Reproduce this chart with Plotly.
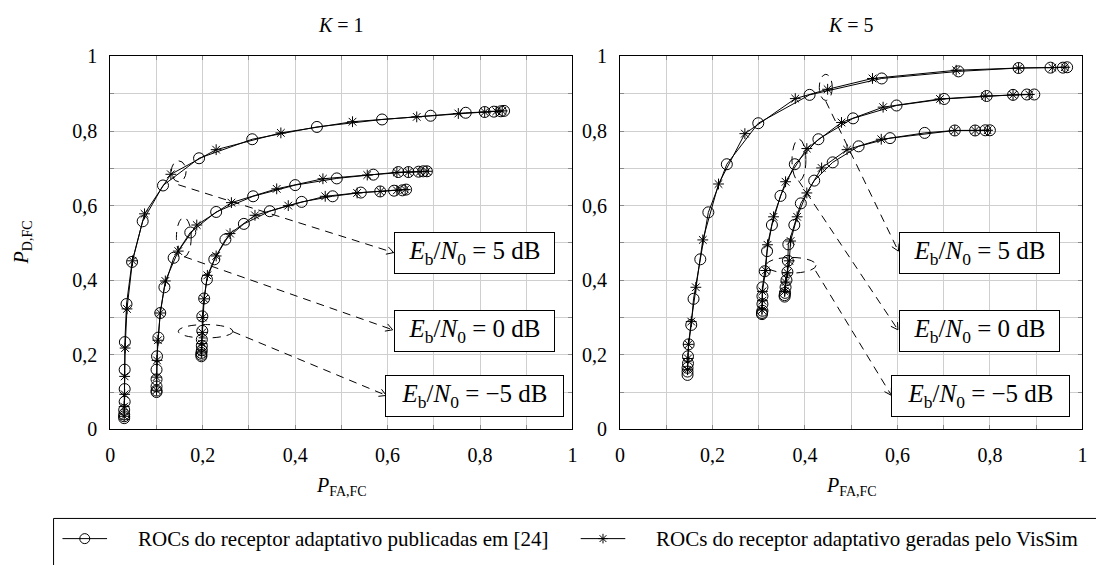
import math
import plotly.graph_objects as go

W, H = 1096, 565
FONT = "Liberation Serif"

# ---------------- ROC data: K = 1 ----------------
k1_pub_5_x = [0.030, 0.030, 0.030, 0.030, 0.031, 0.031, 0.031, 0.0315, 0.035, 0.047, 0.070, 0.114,
              0.192, 0.307, 0.447, 0.588, 0.693, 0.769, 0.810, 0.830, 0.845, 0.852]
k1_pub_5_y = [0.030, 0.035, 0.040, 0.052, 0.074, 0.108, 0.160, 0.234, 0.336, 0.449, 0.558, 0.654,
              0.727, 0.778, 0.811, 0.831, 0.841, 0.849, 0.851, 0.852, 0.853, 0.854]
k1_vis_5_x = [0.030, 0.030, 0.031, 0.031, 0.032, 0.036, 0.048, 0.074, 0.131, 0.229, 0.369, 0.524,
              0.663, 0.753, 0.810, 0.835, 0.848]
k1_vis_5_y = [0.035, 0.061, 0.094, 0.142, 0.218, 0.323, 0.452, 0.578, 0.684, 0.750, 0.795, 0.825,
              0.838, 0.847, 0.851, 0.853, 0.854]

k1_pub_0_x = [0.100, 0.100, 0.100, 0.100, 0.100, 0.101, 0.104, 0.108, 0.117, 0.137, 0.173, 0.229,
              0.309, 0.400, 0.490, 0.569, 0.623, 0.645, 0.667, 0.677, 0.685]
k1_pub_0_y = [0.100, 0.104, 0.115, 0.134, 0.160, 0.196, 0.246, 0.312, 0.381, 0.460, 0.528, 0.583,
              0.625, 0.655, 0.673, 0.683, 0.690, 0.690, 0.691, 0.692, 0.692]
k1_vis_0_x = [0.100, 0.100, 0.101, 0.103, 0.108, 0.119, 0.147, 0.187, 0.262, 0.360, 0.460, 0.556,
              0.620, 0.645, 0.670, 0.685]
k1_vis_0_y = [0.105, 0.140, 0.185, 0.239, 0.312, 0.398, 0.478, 0.548, 0.608, 0.645, 0.672, 0.682,
              0.689, 0.690, 0.691, 0.692]

k1_pub_m5_x = [0.197, 0.197, 0.197, 0.198, 0.198, 0.198, 0.199, 0.199, 0.203, 0.209, 0.225, 0.249,
               0.289, 0.345, 0.414, 0.481, 0.542, 0.584, 0.614, 0.632, 0.640]
k1_pub_m5_y = [0.196, 0.200, 0.205, 0.212, 0.224, 0.241, 0.264, 0.303, 0.351, 0.402, 0.456, 0.509,
               0.551, 0.585, 0.610, 0.625, 0.635, 0.638, 0.640, 0.641, 0.643]
k1_vis_m5_x = [0.197, 0.198, 0.199, 0.200, 0.203, 0.210, 0.229, 0.259, 0.313, 0.385, 0.465, 0.534,
               0.584, 0.620, 0.638]
k1_vis_m5_y = [0.205, 0.230, 0.260, 0.300, 0.350, 0.413, 0.465, 0.525, 0.574, 0.600, 0.625, 0.634,
               0.638, 0.641, 0.643]

# ---------------- ROC data: K = 5 ----------------
k5_pub_5_x = [0.146, 0.146, 0.146, 0.147, 0.147, 0.1485, 0.154, 0.159, 0.1736, 0.191, 0.231, 0.299,
              0.410, 0.566, 0.732, 0.862, 0.931, 0.958, 0.967]
k5_pub_5_y = [0.146, 0.155, 0.165, 0.177, 0.196, 0.228, 0.280, 0.350, 0.456, 0.582, 0.711, 0.821,
              0.897, 0.941, 0.960, 0.969, 0.970, 0.970, 0.971]
k5_vis_5_x = [0.146, 0.147, 0.148, 0.154, 0.164, 0.179, 0.213, 0.270, 0.379, 0.449, 0.546, 0.727,
              0.862, 0.935, 0.962]
k5_vis_5_y = [0.160, 0.190, 0.228, 0.289, 0.381, 0.508, 0.658, 0.793, 0.887, 0.912, 0.941, 0.963,
              0.969, 0.970, 0.971]

k5_pub_0_x = [0.307, 0.307, 0.308, 0.308, 0.308, 0.308, 0.313, 0.318, 0.3285, 0.347, 0.378, 0.429,
              0.504, 0.598, 0.701, 0.793, 0.850, 0.880, 0.896]
k5_pub_0_y = [0.309, 0.312, 0.318, 0.336, 0.357, 0.381, 0.424, 0.478, 0.548, 0.626, 0.711, 0.778,
              0.834, 0.8685, 0.886, 0.894, 0.897, 0.898, 0.898]
k5_vis_0_x = [0.307, 0.308, 0.308, 0.315, 0.319, 0.332, 0.358, 0.404, 0.479, 0.569, 0.692, 0.790,
              0.850, 0.885]
k5_vis_0_y = [0.320, 0.345, 0.370, 0.426, 0.495, 0.570, 0.664, 0.753, 0.823, 0.864, 0.886, 0.894,
              0.897, 0.898]

k5_pub_m5_x = [0.356, 0.356, 0.357, 0.358, 0.360, 0.362, 0.363, 0.364, 0.377, 0.391, 0.420, 0.460,
               0.516, 0.584, 0.659, 0.724, 0.768, 0.790, 0.800]
k5_pub_m5_y = [0.356, 0.360, 0.366, 0.381, 0.400, 0.422, 0.452, 0.496, 0.548, 0.606, 0.667, 0.716,
               0.759, 0.781, 0.795, 0.8015, 0.8015, 0.802, 0.802]
k5_vis_m5_x = [0.356, 0.358, 0.362, 0.366, 0.369, 0.383, 0.404, 0.436, 0.491, 0.565, 0.724, 0.768,
               0.795]
k5_vis_m5_y = [0.370, 0.395, 0.420, 0.452, 0.505, 0.570, 0.634, 0.701, 0.750, 0.778, 0.8015, 0.8015,
               0.802]

tick_vals = [0, 0.2, 0.4, 0.6, 0.8, 1]
tick_text = ["0", "0,2", "0,4", "0,6", "0,8", "1"]
panel_titles = ["<i>K</i> = 1", "<i>K</i> = 5"]
snr_labels = ["5", "0", "\u22125"]
legend_names = ["ROCs do receptor adaptativo publicadas em [24]",
                "ROCs do receptor adaptativo geradas pelo VisSim"]

# ---------------- layout geometry (pixels) ----------------
PX_LEFT = (106.3, 572.7)
PX_RIGHT = (620.7, 1087.3)
PY_TOP, PY_BOT = 47.3, 435.3
dom_l = [PX_LEFT[0] / W, PX_LEFT[1] / W]
dom_r = [PX_RIGHT[0] / W, PX_RIGHT[1] / W]
dom_y = [1 - PY_BOT / H, 1 - PY_TOP / H]
SX = PX_LEFT[1] - PX_LEFT[0]
SY = PY_BOT - PY_TOP

fig = go.Figure()

panels = [
    ("x", "y", [(k1_pub_5_x, k1_pub_5_y, k1_vis_5_x, k1_vis_5_y),
                (k1_pub_0_x, k1_pub_0_y, k1_vis_0_x, k1_vis_0_y),
                (k1_pub_m5_x, k1_pub_m5_y, k1_vis_m5_x, k1_vis_m5_y)]),
    ("x2", "y2", [(k5_pub_5_x, k5_pub_5_y, k5_vis_5_x, k5_vis_5_y),
                  (k5_pub_0_x, k5_pub_0_y, k5_vis_0_x, k5_vis_0_y),
                  (k5_pub_m5_x, k5_pub_m5_y, k5_vis_m5_x, k5_vis_m5_y)]),
]

PUB_STYLE = dict(mode="lines+markers", line=dict(color="black", width=1),
                 marker=dict(symbol="circle-open", size=11, color="black", line=dict(width=1)))
VIS_STYLE = dict(mode="lines+markers", line=dict(color="black", width=1),
                 marker=dict(symbol="asterisk-open", size=9, color="black", line=dict(width=1)))

for xa, ya, curves in panels:
    for px_, py_, vx, vy in curves:
        fig.add_trace(go.Scatter(x=vx, y=vy, xaxis=xa, yaxis=ya, showlegend=False,
                                 hoverinfo="skip", **VIS_STYLE))
        fig.add_trace(go.Scatter(x=px_, y=py_, xaxis=xa, yaxis=ya, showlegend=False,
                                 hoverinfo="skip", **PUB_STYLE))

# ---------------- axes ----------------
def axis_common():
    return dict(range=[0, 1], tickvals=tick_vals, ticktext=tick_text, showgrid=True,
                gridcolor="#cfcfcf", gridwidth=1, zeroline=False, showline=True,
                linecolor="black", linewidth=1, mirror="ticks", ticks="inside", ticklen=4,
                tickcolor="#8a8a8a", ticklabelstandoff=8,
                tickfont=dict(family=FONT, size=20, color="black"),
                minor=dict(dtick=0.1, tick0=0, showgrid=True, gridcolor="#cfcfcf",
                           ticks="inside", ticklen=4, tickcolor="#8a8a8a"),
                fixedrange=True)

fig.update_layout(
    xaxis=dict(domain=dom_l, anchor="y", **axis_common()),
    yaxis=dict(domain=dom_y, anchor="x", **axis_common()),
    xaxis2=dict(domain=dom_r, anchor="y2", **axis_common()),
    yaxis2=dict(domain=dom_y, anchor="x2", **axis_common()),
    # full-figure pixel axis used only for the legend glyphs
    xaxis3=dict(domain=[0, 1], range=[0, W], visible=False, anchor="y3", fixedrange=True),
    yaxis3=dict(domain=[0, 1], range=[H, 0], visible=False, anchor="x3", fixedrange=True),
)

shapes = []
annotations = []

# ---------------- callouts: ellipse, dashed arrow, label box ----------------
DASH = "8px,6px"

def arrow_head(x0, y0, x1, y1, xref, yref, length=8, ang=30):
    dx, dy = (x1 - x0) * SX, (y1 - y0) * SY
    n = math.hypot(dx, dy)
    ux, uy = -dx / n, -dy / n
    pts = []
    for s in (1, -1):
        a = math.radians(ang) * s
        rx = ux * math.cos(a) - uy * math.sin(a)
        ry = ux * math.sin(a) + uy * math.cos(a)
        pts.append((x1 + length * rx / SX, y1 + length * ry / SY))
    path = "M {:.5f},{:.5f} L {:.5f},{:.5f} L {:.5f},{:.5f}".format(
        pts[0][0], pts[0][1], x1, y1, pts[1][0], pts[1][1])
    return dict(type="path", path=path, xref=xref, yref=yref,
                line=dict(color="black", width=1))

callouts = {
    ("x", "y"): [
        # ellipse centre, radii, arrow start, arrow end, box centre, box width
        ((0.148, 0.692), (0.016, 0.028), (0.147, 0.656), (0.613, 0.474), (0.7873, 0.4737), 159),
        ((0.159, 0.515), (0.016, 0.053), (0.160, 0.463), (0.611, 0.267), (0.7873, 0.2637), 159),
        ((0.206, 0.263), (0.059, 0.018), (0.265, 0.262), (0.597, 0.091), (0.7873, 0.0884), 177),
    ],
    ("x2", "y2"): [
        ((0.445, 0.917), (0.014, 0.035), (0.445, 0.880), (0.602, 0.478), (0.7776, 0.4737), 159),
        ((0.387, 0.722), (0.015, 0.056), (0.386, 0.667), (0.601, 0.267), (0.7776, 0.2637), 159),
        ((0.370, 0.440), (0.054, 0.021), (0.423, 0.425), (0.587, 0.091), (0.7786, 0.0884), 177),
    ],
}

for (xr, yr), items in callouts.items():
    for i, (c, r, a0, a1, bc, bw) in enumerate(items):
        shapes.append(dict(type="circle", xref=xr, yref=yr,
                           x0=c[0] - r[0], x1=c[0] + r[0], y0=c[1] - r[1], y1=c[1] + r[1],
                           line=dict(color="black", width=1, dash=DASH)))
        shapes.append(dict(type="line", xref=xr, yref=yr, x0=a0[0], y0=a0[1], x1=a1[0], y1=a1[1],
                           line=dict(color="black", width=1, dash=DASH)))
        shapes.append(arrow_head(a0[0], a0[1], a1[0], a1[1], xr, yr))
        annotations.append(dict(
            x=bc[0], y=bc[1], xref=xr, yref=yr, xanchor="center", yanchor="middle",
            text="<i>E</i><sub>b</sub>/<i>N</i><sub>0</sub> = {} dB".format(snr_labels[i]),
            showarrow=False, font=dict(family=FONT, size=25, color="black"),
            bgcolor="white", bordercolor="black", borderwidth=1, borderpad=0,
            width=bw, height=40))

# ---------------- titles and axis labels ----------------
for dom, title in zip([dom_l, dom_r], panel_titles):
    cx = (dom[0] + dom[1]) / 2
    annotations.append(dict(x=cx, y=1 - 15 / H, xref="paper", yref="paper", text=title,
                            showarrow=False, xanchor="center", yanchor="middle",
                            font=dict(family=FONT, size=20, color="black")))
    annotations.append(dict(x=cx, y=1 - 495 / H, xref="paper", yref="paper",
                            text="<i>P</i><sub>FA,FC</sub>", showarrow=False,
                            xanchor="center", yanchor="middle",
                            font=dict(family=FONT, size=20, color="black")))
annotations.append(dict(x=18 / W, y=1 - 241 / H, xref="paper", yref="paper",
                        text="<i>P</i><sub>D,FC</sub>", textangle=-90, showarrow=False,
                        xanchor="center", yanchor="middle",
                        font=dict(family=FONT, size=20, color="black")))

# ---------------- legend (drawn on the full-figure pixel axis) ----------------
LEG_Y = 549
shapes.append(dict(type="rect", xref="paper", yref="paper", x0=49 / W, x1=1.02,
                   y0=-0.05, y1=1 - 528 / H, line=dict(color="black", width=1),
                   fillcolor="rgba(0,0,0,0)"))
legend_items = [((58, 103), PUB_STYLE["marker"], 136), ((581, 626), VIS_STYLE["marker"], 659)]
for (lx0, lx1), mk, tx in legend_items:
    fig.add_trace(go.Scatter(x=[lx0, lx1], y=[LEG_Y, LEG_Y], xaxis="x3", yaxis="y3",
                             mode="lines", line=dict(color="black", width=1),
                             showlegend=False, hoverinfo="skip"))
    mk_small = dict(mk)
    mk_small["size"] = mk["size"] - 1
    fig.add_trace(go.Scatter(x=[(lx0 + lx1) / 2], y=[LEG_Y], xaxis="x3", yaxis="y3",
                             mode="markers", marker=mk_small, showlegend=False,
                             hoverinfo="skip"))
for name, (_, _, tx) in zip(legend_names, legend_items):
    annotations.append(dict(x=(tx - 4) / W, y=1 - LEG_Y / H, xref="paper", yref="paper",
                            text=name, showarrow=False, xanchor="left", yanchor="middle",
                            font=dict(family=FONT, size=21, color="black")))

fig.update_layout(
    width=W, height=H, margin=dict(l=0, r=0, t=0, b=0),
    paper_bgcolor="white", plot_bgcolor="rgba(0,0,0,0)",
    shapes=shapes, annotations=annotations, showlegend=False,
)

fig.write_html("out.html")
